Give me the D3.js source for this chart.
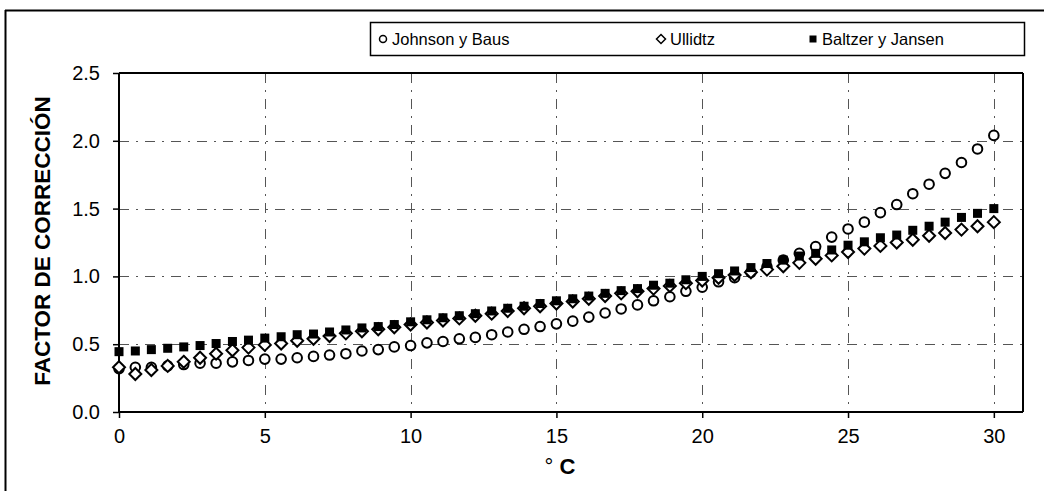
<!DOCTYPE html>
<html>
<head>
<meta charset="utf-8">
<script src="https://cdn.jsdelivr.net/npm/d3@7"></script>
<style>
  body { margin: 0; background: #fff; }
  text { font-family: "Liberation Sans", Arial, sans-serif; fill: #000; }
</style>
</head>
<body>
<div id="chart"></div>
<script>
// Temperatures (°C, every 1 °F from 32 to 86)
var tempC = [0, 0.56, 1.11, 1.67, 2.22, 2.78, 3.33, 3.89, 4.44, 5, 5.56, 6.11, 6.67, 7.22, 7.78,
  8.33, 8.89, 9.44, 10, 10.56, 11.11, 11.67, 12.22, 12.78, 13.33, 13.89, 14.44, 15, 15.56, 16.11,
  16.67, 17.22, 17.78, 18.33, 18.89, 19.44, 20, 20.56, 21.11, 21.67, 22.22, 22.78, 23.33, 23.89,
  24.44, 25, 25.56, 26.11, 26.67, 27.22, 27.78, 28.33, 28.89, 29.44, 30];

var johnsonBaus = [0.32, 0.33, 0.33, 0.34, 0.35, 0.36, 0.36, 0.37, 0.38, 0.39, 0.39, 0.40, 0.41, 0.42, 0.43,
  0.45, 0.46, 0.48, 0.49, 0.51, 0.52, 0.54, 0.55, 0.57, 0.59, 0.61, 0.63, 0.65, 0.67, 0.70,
  0.73, 0.76, 0.79, 0.82, 0.85, 0.89, 0.92, 0.96, 0.99, 1.03, 1.07, 1.12, 1.17, 1.22,
  1.29, 1.35, 1.40, 1.47, 1.53, 1.61, 1.68, 1.76, 1.84, 1.94, 2.04];

var ullidtz = [0.33, 0.28, 0.31, 0.34, 0.37, 0.40, 0.43, 0.455, 0.475, 0.495, 0.505, 0.525, 0.54, 0.56, 0.58,
  0.595, 0.61, 0.625, 0.645, 0.66, 0.675, 0.69, 0.71, 0.725, 0.745, 0.765, 0.78, 0.80, 0.815, 0.835,
  0.855, 0.875, 0.89, 0.91, 0.93, 0.95, 0.97, 0.99, 1.01, 1.03, 1.05, 1.075, 1.10, 1.13,
  1.155, 1.18, 1.205, 1.225, 1.25, 1.27, 1.30, 1.32, 1.345, 1.37, 1.40];

var baltzerJansen = [0.445, 0.45, 0.46, 0.47, 0.48, 0.49, 0.505, 0.52, 0.53, 0.545, 0.555, 0.57, 0.575, 0.59, 0.605,
  0.62, 0.63, 0.645, 0.665, 0.68, 0.695, 0.71, 0.725, 0.745, 0.765, 0.78, 0.80, 0.82, 0.835, 0.855,
  0.875, 0.895, 0.91, 0.935, 0.95, 0.975, 1.0, 1.02, 1.04, 1.065, 1.095, 1.12, 1.15, 1.17,
  1.195, 1.23, 1.255, 1.285, 1.305, 1.34, 1.37, 1.40, 1.435, 1.465, 1.50];

var seriesNames = ["Johnson y Baus", "Ullidtz", "Baltzer y Jansen"];
var xTicks = [0, 5, 10, 15, 20, 25, 30];
var yTicks = [0.0, 0.5, 1.0, 1.5, 2.0, 2.5];

var svgWidth = 1044;
var svgHeight = 491;

var margin = { top: 73, right: 21, bottom: 79, left: 119 };
var chartWidth = svgWidth - margin.left - margin.right;
var chartHeight = svgHeight - margin.top - margin.bottom;

var svg = d3.select("#chart")
  .append("svg")
  .attr("width", svgWidth)
  .attr("height", svgHeight);

// outer frame (top and left edge of the scanned figure)
svg.append("line").attr("x1", 5).attr("x2", svgWidth).attr("y1", 10.5).attr("y2", 10.5)
  .attr("stroke", "#000").attr("stroke-width", 2);
svg.append("line").attr("x1", 5.5).attr("x2", 5.5).attr("y1", 10).attr("y2", svgHeight)
  .attr("stroke", "#000").attr("stroke-width", 2);

var chartGroup = svg.append("g")
  .attr("transform", `translate(${margin.left}, ${margin.top})`);

var xScale = d3.scaleLinear().domain([0, 31]).range([0, chartWidth]);
var yScale = d3.scaleLinear().domain([0, 2.5]).range([chartHeight, 0]);

// grid lines, dash-dot
chartGroup.append("g")
  .selectAll("line")
  .data(yTicks.filter(d => d > 0 && d < 2.5))
  .enter()
  .append("line")
  .attr("x1", 0).attr("x2", chartWidth)
  .attr("y1", d => Math.round(yScale(d)) + 0.5)
  .attr("y2", d => Math.round(yScale(d)) + 0.5)
  .attr("stroke", "#555")
  .attr("stroke-dasharray", "10,7,2,7");

chartGroup.append("g")
  .selectAll("line")
  .data(xTicks.filter(d => d > 0))
  .enter()
  .append("line")
  .attr("y1", 0).attr("y2", chartHeight)
  .attr("x1", d => Math.round(xScale(d)) + 0.5)
  .attr("x2", d => Math.round(xScale(d)) + 0.5)
  .attr("stroke", "#555")
  .attr("stroke-dasharray", "10,7,2,7");

// top and right border of the plot
chartGroup.append("line").attr("x1", 0).attr("x2", chartWidth).attr("y1", 0).attr("y2", 0)
  .attr("stroke", "#000").attr("stroke-width", 2);
chartGroup.append("line").attr("x1", chartWidth).attr("x2", chartWidth).attr("y1", 0).attr("y2", chartHeight)
  .attr("stroke", "#000").attr("stroke-width", 2);

// axes
var bottomAxis = d3.axisBottom(xScale).tickValues(xTicks).tickSize(6).tickPadding(11);
var leftAxis = d3.axisLeft(yScale).tickValues(yTicks).tickSize(6).tickPadding(13)
  .tickFormat(d3.format(".1f"));

var xAxisG = chartGroup.append("g")
  .attr("transform", `translate(0, ${chartHeight})`)
  .call(bottomAxis);
var yAxisG = chartGroup.append("g").call(leftAxis);

[xAxisG, yAxisG].forEach(function (g) {
  g.select(".domain").attr("stroke", "#000").attr("stroke-width", 2);
  g.selectAll(".tick line").attr("stroke", "#000").attr("stroke-width", 1.5);
  g.selectAll(".tick text")
    .attr("font-size", 20)
    .attr("font-family", "'Liberation Sans', Arial, sans-serif")
    .attr("fill", "#000");
});
xAxisG.select(".domain").attr("d", `M0,0H${chartWidth}`);
yAxisG.select(".domain").attr("d", `M0,${chartHeight}V0`);

// axis titles
var xTitle = svg.append("text")
  .attr("x", 560)
  .attr("y", 474)
  .attr("text-anchor", "middle")
  .attr("font-size", 22);
xTitle.append("tspan").attr("font-weight", 400).text("° ");
xTitle.append("tspan").attr("font-weight", 700).text("C");

svg.append("text")
  .attr("transform", "translate(50, 241) rotate(-90)")
  .attr("text-anchor", "middle")
  .attr("font-size", 22.5)
  .attr("font-weight", 700)
  .text("FACTOR DE CORRECCIÓN");

// data points
var johnsonData = tempC.map((t, i) => ({ x: t, y: johnsonBaus[i] }));
var ullidtzData = tempC.map((t, i) => ({ x: t, y: ullidtz[i] }));
var baltzerData = tempC.map((t, i) => ({ x: t, y: baltzerJansen[i] }));

var diamond = "M0,-6L6,0L0,6L-6,0Z";

chartGroup.append("g")
  .selectAll("circle")
  .data(johnsonData)
  .enter()
  .append("circle")
  .attr("cx", d => xScale(d.x))
  .attr("cy", d => yScale(d.y))
  .attr("r", 4.8)
  .attr("fill", "#fff")
  .attr("stroke", "#000")
  .attr("stroke-width", 2);

chartGroup.append("g")
  .selectAll("path")
  .data(ullidtzData)
  .enter()
  .append("path")
  .attr("transform", d => `translate(${xScale(d.x)}, ${yScale(d.y)})`)
  .attr("d", diamond)
  .attr("fill", "#fff")
  .attr("stroke", "#000")
  .attr("stroke-width", 2);

chartGroup.append("g")
  .selectAll("rect")
  .data(baltzerData)
  .enter()
  .append("rect")
  .attr("x", d => xScale(d.x) - 4.5)
  .attr("y", d => yScale(d.y) - 4.5)
  .attr("width", 9)
  .attr("height", 9)
  .attr("fill", "#000");

// legend
var legend = svg.append("g");
legend.append("rect")
  .attr("x", 370.5).attr("y", 22.5)
  .attr("width", 654).attr("height", 33)
  .attr("fill", "#fff")
  .attr("stroke", "#000")
  .attr("stroke-width", 1.5);

var legendX = [383, 661, 813];
var legendItems = legend.selectAll("g.item")
  .data(seriesNames)
  .enter()
  .append("g")
  .attr("class", "item")
  .attr("transform", (d, i) => `translate(${legendX[i]}, 39)`);

legendItems.each(function (d, i) {
  var g = d3.select(this);
  if (i === 0) {
    g.append("circle").attr("r", 3.5).attr("fill", "#fff").attr("stroke", "#000").attr("stroke-width", 1.5);
  } else if (i === 1) {
    g.append("path").attr("d", "M0,-4.5L4.5,0L0,4.5L-4.5,0Z").attr("fill", "#fff")
      .attr("stroke", "#000").attr("stroke-width", 1.5);
  } else {
    g.append("rect").attr("x", -3.5).attr("y", -3.5).attr("width", 7).attr("height", 7).attr("fill", "#000");
  }
  g.append("text")
    .attr("x", 9)
    .attr("y", 6)
    .attr("font-size", 16.5)
    .text(d);
});
</script>
</body>
</html>
